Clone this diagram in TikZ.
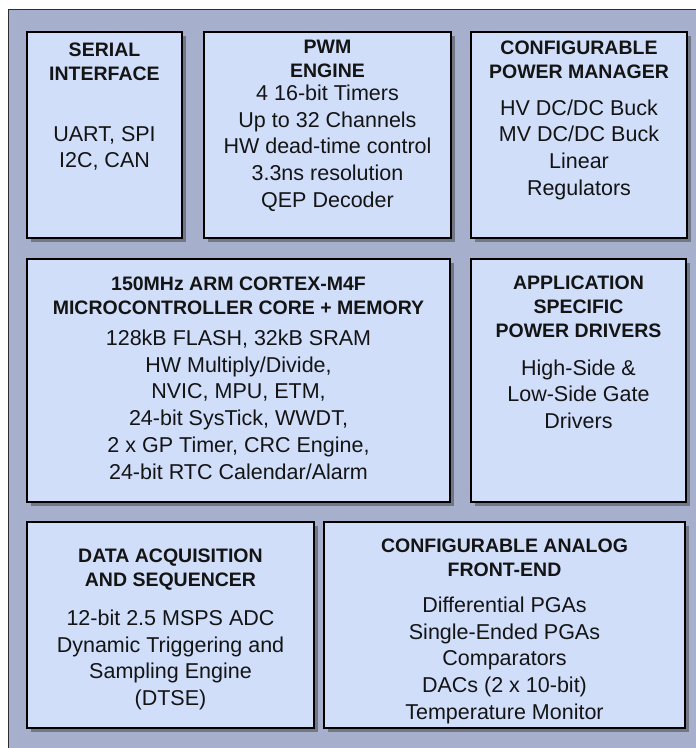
\documentclass[tikz,border=0pt]{standalone}
\usepackage{fontspec}
\setmainfont{Liberation Sans}
\usetikzlibrary{positioning, fit, shadows}
\definecolor{frameFill}{RGB}{166,175,203}
\definecolor{frameLine}{RGB}{45,45,45}
\definecolor{boxFill}{RGB}{208,222,250}
\tikzset{
    frameBox/.style={draw=frameLine, line width=1pt, fill=frameFill, inner sep=0pt},
    blockBox/.style={draw=black, line width=1.4pt, fill=boxFill, inner sep=0pt,
        drop shadow={shadow xshift=3.5pt, shadow yshift=-3.5pt, fill=black!80, opacity=0.45}},
    blockTitle/.style={align=center, inner sep=0pt, text=black!92, font=\fontsize{19.5}{24}\selectfont\bfseries},
    blockBody/.style={align=center, inner sep=0pt, text=black!92, font=\fontsize{21.5}{26.7}\selectfont},
}
\newcommand{\drawBox}[3]{
    \node[blockBox, fit={(#2) (#3)}] (#1) {};
}
\begin{document}
\begin{tikzpicture}[x=1pt, y=-1pt]
    \useasboundingbox (0,0) rectangle (696,748);
    \clip (0,0) rectangle (696,748);
    \node[frameBox, fit={(8,9.5) (712,764)}] (frame) {};

    % top row
    \drawBox{serial}{27,32}{182,238}
    \node[blockTitle, below=11pt of serial.north] (serialT) {SERIAL\\INTERFACE};
    \node[blockBody, below=94.6pt of serial.north] (serialB) {UART, SPI\\I2C, CAN};

    \drawBox{pwm}{204,32}{451,238}
    \node[blockTitle, below=9pt of pwm.north] (pwmT) {PWM\\ENGINE};
    \node[blockBody, below=53.3pt of pwm.north] (pwmB) {4 16-bit Timers\\Up to 32 Channels\\HW dead-time control\\3.3ns resolution\\QEP Decoder};

    \drawBox{power}{471,32}{687,238}
    \node[blockTitle, below=9pt of power.north] (powerT) {CONFIGURABLE\\POWER MANAGER};
    \node[blockBody, below=68pt of power.north] (powerB) {HV DC/DC Buck\\MV DC/DC Buck\\Linear\\Regulators};

    % middle row
    \drawBox{cpu}{27,259}{450,502}
    \node[blockTitle, below=18pt of cpu.north] (cpuT) {150MHz ARM CORTEX-M4F\\MICROCONTROLLER CORE + MEMORY};
    \node[blockBody, below=71.5pt of cpu.north] (cpuB) {128kB FLASH, 32kB SRAM\\HW Multiply/Divide,\\NVIC, MPU, ETM,\\24-bit SysTick, WWDT,\\2 x GP Timer, CRC Engine,\\24-bit RTC Calendar/Alarm};

    \drawBox{app}{471,259}{686,502}
    \node[blockTitle, below=17pt of app.north] (appT) {APPLICATION\\SPECIFIC\\POWER DRIVERS};
    \node[blockBody, below=101pt of app.north] (appB) {High-Side \&\\Low-Side Gate\\Drivers};

    % bottom row
    \drawBox{daq}{27,522}{314,728}
    \node[blockTitle, below=27pt of daq.north] (daqT) {DATA ACQUISITION\\AND SEQUENCER};
    \node[blockBody, below=88.5pt of daq.north] (daqB) {12-bit 2.5 MSPS ADC\\Dynamic Triggering and\\Sampling Engine\\(DTSE)};

    \drawBox{afe}{324,522}{685,728}
    \node[blockTitle, below=17pt of afe.north] (afeT) {CONFIGURABLE ANALOG\\FRONT-END};
    \node[blockBody, below=75.5pt of afe.north] (afeB) {Differential PGAs\\Single-Ended PGAs\\Comparators\\DACs (2 x 10-bit)\\Temperature Monitor};
\end{tikzpicture}
\end{document}
